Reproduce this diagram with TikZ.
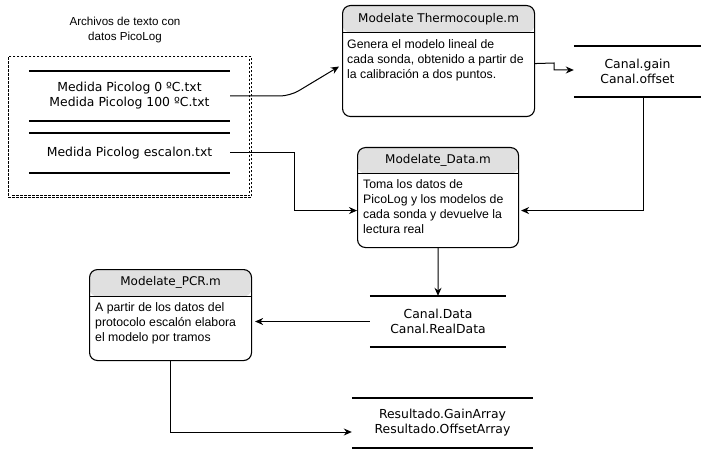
\documentclass[tikz,border=0pt]{standalone}
\usepackage{fontspec}
\setmainfont{Liberation Sans}
\newfontfamily\dejavu{DejaVu Sans}
\usetikzlibrary{arrows.meta}
\definecolor{hdrgray}{RGB}{224,224,224}

\begin{document}
\begin{tikzpicture}[x=1pt,y=-1pt,
  procbox/.style={draw, line width=1.1pt, rounded corners=8pt, anchor=north west, inner sep=0pt,
    path picture={\fill[hdrgray] (path picture bounding box.north west) rectangle ([yshift=-#1]path picture bounding box.north east);
      \draw[line width=1pt] ([yshift=-#1]path picture bounding box.north west) -- ([yshift=-#1]path picture bounding box.north east);}},
  hdrtxt/.style={font=\dejavu\fontsize{12}{15}\selectfont, anchor=north, inner sep=0pt, minimum height=#1},
  bodytxt/.style={font=\fontsize{12.3}{15}\selectfont, anchor=north west, align=left, inner sep=0pt},
  store/.style={font=\dejavu\fontsize{12.4}{15}\selectfont, align=center, inner sep=0pt},
  storeline/.style={line width=1.6pt},
  framedash/.style={dashed, dash pattern=on 2.5pt off 1.5pt, line width=0.8pt},
  flow/.style={line width=1pt, -{Stealth[length=8pt,width=7pt]}}]

\useasboundingbox (0,0) rectangle (701,449);

% Input files
\node[font=\fontsize{11.6}{15.5}\selectfont, align=center] (filesT) at (125,30) {Archivos de texto con\\datos PicoLog};
\node[framedash, draw, anchor=north west, minimum width=243pt, minimum height=141pt] (files) at (8,56) {};
\draw[framedash] ([shift={(-2pt,-3pt)}]files.north east) -- ([shift={(-2pt,2pt)}]files.south east) -- ([shift={(3pt,2pt)}]files.south west);
\node[store, minimum width=201pt, minimum height=50pt] (f1) at (129.5,96) {Medida Picolog 0 ºC.txt\\Medida Picolog 100 ºC.txt};
\node[store, minimum width=201pt, minimum height=40pt] (f2) at (129.5,153) {Medida Picolog escalon.txt};
\draw[storeline] (f1.north west) -- (f1.north east) (f1.south west) -- (f1.south east);
\draw[storeline] (f2.north west) -- (f2.north east) (f2.south west) -- (f2.south east);

% Scripts
\node[procbox=27pt, minimum width=192pt, minimum height=111pt] (thermo) at (342,5) {};
\node[hdrtxt=27pt] (thermoT) at (thermo.north) {Modelate Thermocouple.m};
\node[bodytxt] (thermoB) at (347,39) {Genera el modelo lineal de\\cada sonda, obtenido a partir de\\la calibración a dos puntos.};

\node[procbox=26pt, minimum width=161pt, minimum height=100pt] (data) at (357,147) {};
\node[hdrtxt=26pt] (dataT) at (data.north) {Modelate\_Data.m};
\node[bodytxt] (dataB) at (363,179) {Toma los datos de\\PicoLog y los modelos de\\cada sonda y devuelve la\\lectura real};

\node[procbox=27pt, minimum width=162pt, minimum height=91pt] (pcr) at (89,269) {};
\node[hdrtxt=27pt] (pcrT) at (pcr.north) {Modelate\_PCR.m};
\node[bodytxt] (pcrB) at (95,302) {A partir de los datos del\\protocolo escalón elabora\\el modelo por tramos};

% Data stores
\node[store, minimum width=127pt, minimum height=51pt] (gain) at (637.5,71.5) {Canal.gain\\Canal.offset};
\draw[storeline] (gain.north west) -- (gain.north east) (gain.south west) -- (gain.south east);
\node[store, minimum width=136pt, minimum height=51pt] (cdata) at (438,321.5) {Canal.Data\\Canal.RealData};
\draw[storeline] (cdata.north west) -- (cdata.north east) (cdata.south west) -- (cdata.south east);
\node[store, minimum width=181pt, minimum height=50pt] (res) at (442.5,423) {Resultado.GainArray\\Resultado.OffsetArray};
\draw[storeline] (res.north west) -- (res.north east) (res.south west) -- (res.south east);

% Flows
\draw[flow, rounded corners=10pt] (f1.east) -- (290,96) -- ([shift={(-3pt,-5.5pt)}]thermo.west);
\draw[flow] (f2.east) -- (294,153) |- ([yshift=-13pt]data.west);
\draw[flow] ([yshift=-2.5pt]thermo.east) -- (554,63) |- ([yshift=1.5pt]gain.west);
\draw[flow] ([xshift=5.5pt]gain.south) |- ([shift={(2pt,-13pt)}]data.east);
\draw[flow] (data.south) -- (cdata.north);
\draw[flow, shorten >=3pt] (cdata.west) -- (cdata.west -| pcr.east);
\draw[flow] (pcr.south) |- ([yshift=-9pt]res.west);
\end{tikzpicture}
\end{document}
